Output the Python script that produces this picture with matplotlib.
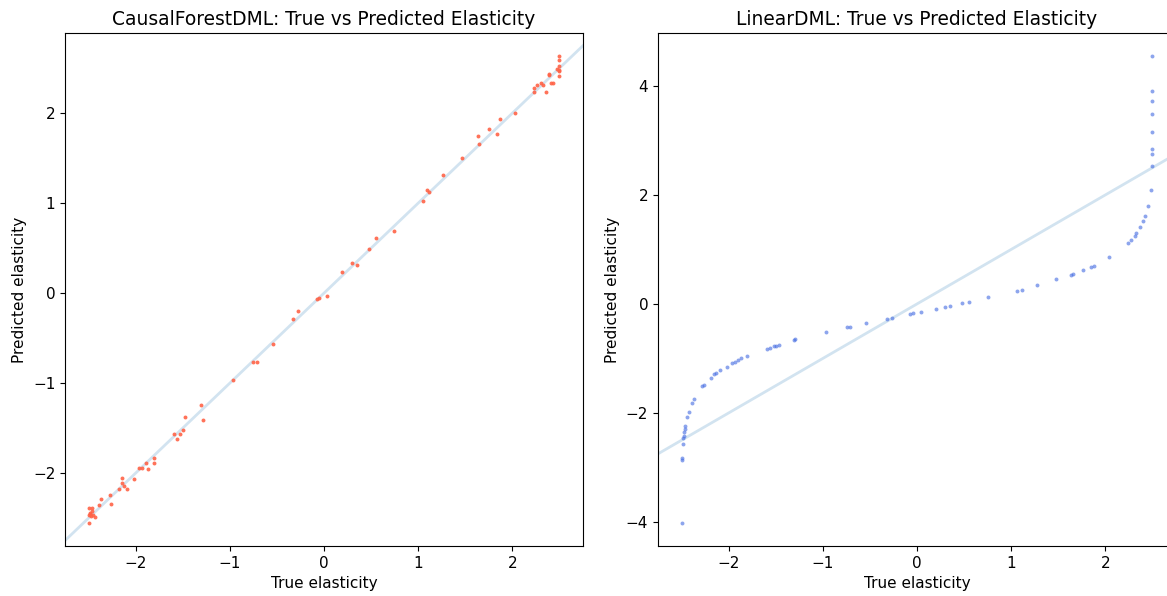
"""True vs predicted elasticity: CausalForestDML and LinearDML scatter plots."""

import matplotlib
matplotlib.use("Agg")
import matplotlib.pyplot as plt

# CausalForestDML
true_cf = [-2.49, -2.46, -2.46, -2.48, -2.50, -2.47, -2.45, -2.43, -2.48, -2.50,
           -2.37, -2.27, -2.26, -2.39, -2.14, -2.02, -2.15, -2.12, -2.18, -2.09,
           -1.81, -1.80, -1.89, -1.96, -1.93, -1.87, -1.59, -1.53, -1.50, -1.56,
           -1.48, -1.31, -1.29, -0.97, -0.75, -0.71, -0.54, -0.33, -0.28, -0.07,
           -0.05, 0.03, 0.19, 0.30, 0.35, 0.48, 0.55, 0.74, 1.05, 1.09,
           1.11, 1.26, 1.47, 1.63, 1.65, 1.75, 1.84, 1.87, 2.03, 2.23,
           2.23, 2.26, 2.30, 2.32, 2.36, 2.39, 2.39, 2.41, 2.43, 2.47,
           2.49, 2.49, 2.50, 2.50, 2.49, 2.49]
pred_cf = [-2.39, -2.39, -2.42, -2.44, -2.47, -2.48, -2.47, -2.49, -2.46, -2.56,
           -2.29, -2.24, -2.34, -2.36, -2.06, -2.07, -2.11, -2.14, -2.18, -2.18,
           -1.83, -1.89, -1.89, -1.94, -1.94, -1.95, -1.56, -1.56, -1.52, -1.62,
           -1.38, -1.24, -1.41, -0.97, -0.77, -0.76, -0.56, -0.29, -0.20, -0.07,
           -0.05, -0.03, 0.24, 0.33, 0.31, 0.49, 0.61, 0.69, 1.02, 1.15,
           1.12, 1.31, 1.50, 1.75, 1.66, 1.82, 1.77, 1.94, 2.00, 2.28,
           2.24, 2.31, 2.33, 2.31, 2.23, 2.44, 2.42, 2.34, 2.34, 2.49,
           2.52, 2.47, 2.48, 2.41, 2.59, 2.63]

# LinearDML
true_lin = [-2.50, -2.50, -2.50, -2.485, -2.48, -2.47, -2.47, -2.46, -2.46,
            -2.44, -2.42, -2.39, -2.37, -2.28, -2.26, -2.19, -2.15, -2.13,
            -2.09, -2.02, -1.96, -1.93, -1.90, -1.87, -1.80, -1.59, -1.56,
            -1.52, -1.50, -1.47, -1.31, -1.29, -0.97, -0.74, -0.71, -0.54,
            -0.32, -0.27, -0.07, -0.04, 0.04, 0.20, 0.30, 0.35, 0.48, 0.55,
            0.75, 1.06, 1.11, 1.27, 1.48, 1.64, 1.66, 1.76, 1.85, 1.88,
            2.04, 2.24, 2.27, 2.31, 2.33, 2.37, 2.40, 2.42, 2.45, 2.48,
            2.50, 2.50, 2.50, 2.50, 2.50, 2.50, 2.50, 2.50]
pred_lin = [-4.02, -2.83, -2.87, -2.56, -2.45, -2.43, -2.35, -2.29, -2.23,
            -2.07, -1.99, -1.82, -1.74, -1.50, -1.48, -1.35, -1.29, -1.26,
            -1.22, -1.15, -1.09, -1.06, -1.02, -1.00, -0.95, -0.82, -0.81,
            -0.78, -0.77, -0.75, -0.67, -0.65, -0.51, -0.43, -0.42, -0.35,
            -0.27, -0.25, -0.18, -0.17, -0.14, -0.09, -0.055, -0.037, 0.02, 0.04,
            0.12, 0.24, 0.26, 0.34, 0.45, 0.54, 0.55, 0.62, 0.68, 0.70,
            0.86, 1.12, 1.17, 1.25, 1.31, 1.41, 1.53, 1.61, 1.79, 2.09,
            2.53, 2.75, 2.84, 3.16, 3.48, 3.73, 3.91, 4.54]


def panel(ax, x, y, color, alpha, title, ylim):
    ax.axline((0, 0), slope=1, color="C0", alpha=0.2, linewidth=2, zorder=1)
    ax.scatter(x, y, s=8, color=color, alpha=alpha, linewidths=0, zorder=2)
    ax.set_xlim(-2.75, 2.75)
    ax.set_ylim(*ylim)
    ax.set_title(title, fontsize=13.4)
    ax.set_xlabel("True elasticity", fontsize=11)
    ax.set_ylabel("Predicted elasticity", fontsize=11)
    ax.tick_params(labelsize=11)


def main() -> None:
    fig = plt.figure(figsize=(11.67, 5.96), dpi=100)
    # right panel runs past the figure edge, as in the original crop
    ax1 = fig.add_axes([0.0557, 0.0839, 0.4439, 0.8607])
    ax2 = fig.add_axes([0.5638, 0.0839, 0.4439, 0.8607])

    panel(ax1, true_cf, pred_cf, "tomato", 0.9,
          "CausalForestDML: True vs Predicted Elasticity", (-2.81, 2.89))
    panel(ax2, true_lin, pred_lin, "royalblue", 0.6,
          "LinearDML: True vs Predicted Elasticity", (-4.44, 4.97))

    fig.savefig("out.png", dpi=100)


if __name__ == "__main__":
    main()
